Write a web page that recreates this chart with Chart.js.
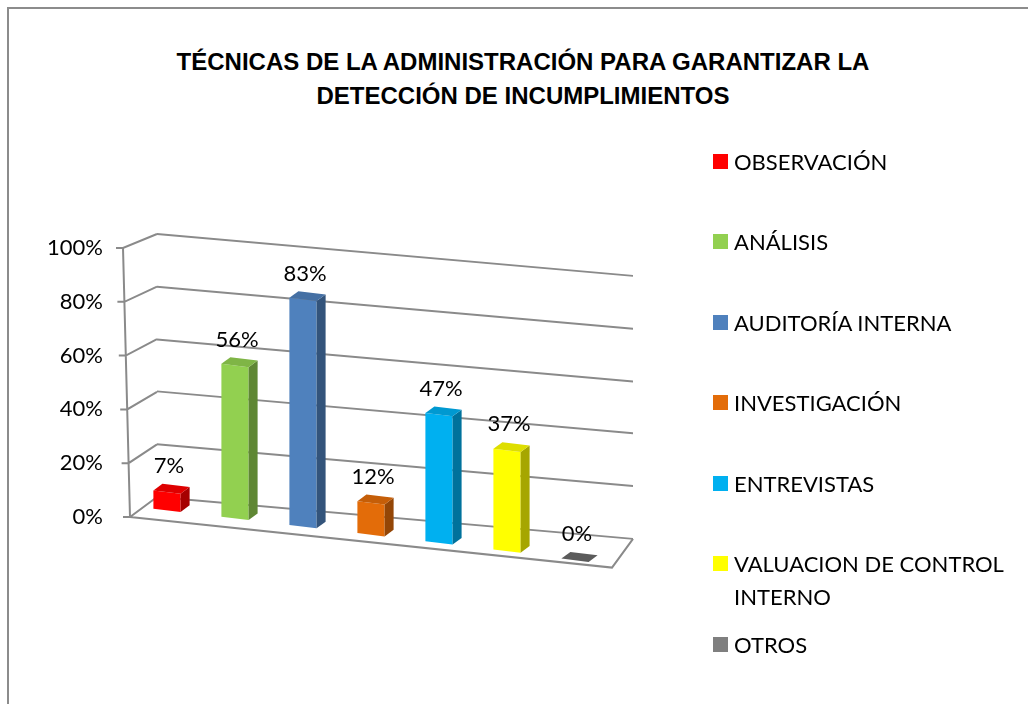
<!DOCTYPE html>
<html lang="es">
<head>
<meta charset="utf-8">
<title>Técnicas de la administración</title>
<script src="https://cdn.jsdelivr.net/npm/chart.js@4.4.1/dist/chart.umd.min.js"></script>
<style>
  html, body { margin: 0; padding: 0; background: #fff; overflow: hidden; }
  #frame { position: absolute; left: 7px; top: 7px; width: 1040px; height: 720px;
           border-left: 2px solid #8c8c8c; border-top: 2px solid #8c8c8c; }
  #chart { position: absolute; left: 0; top: 0; }
  #title { position: absolute; left: 0; top: 45px; width: 1046px; text-align: center;
           font: bold 24px/34px "Liberation Sans", Arial, sans-serif; color: #000; }
  #legend { position: absolute; left: 713px; top: 0; font: 22px/33px Lato, sans-serif; color: #000; }
  .item { position: absolute; left: 0; width: 285px; padding-left: 21px; }
  .item i { position: absolute; left: 0; top: 9px; width: 15px; height: 15px; }
</style>
</head>
<body>
<div id="frame"></div>
<div id="title">TÉCNICAS DE LA ADMINISTRACIÓN PARA GARANTIZAR LA<br>DETECCIÓN DE INCUMPLIMIENTOS</div>
<canvas id="chart" width="1028" height="704"></canvas>
<div id="legend"></div>

<script>
// ─── Data ─────────────────────────────────────────────────────────────────────
const categories = [
  "OBSERVACIÓN",
  "ANÁLISIS",
  "AUDITORÍA INTERNA",
  "INVESTIGACIÓN",
  "ENTREVISTAS",
  "VALUACION DE CONTROL INTERNO",
  "OTROS",
];
const percentages = [7, 56, 83, 12, 47, 37, 0];
const barColors = ["#ff0000", "#92d050", "#4f81bd", "#e36c09", "#00b0f0", "#ffff00", "#7f7f7f"];
const tickLabels = ["0%", "20%", "40%", "60%", "80%", "100%"];

// ─── Fake 3D (affine tilt of the flat chart) ──────────────────────────────────
// back wall grid:  y' = b*x + d*y + f
const GRID = { b: 0.088, d: 0.9777, f: -22.3 };
// bars stand nearer the viewer: moved left, floor drops faster
const BARS = { e: -24, b: 0.12, d: 1.022, f: -40 };
const DEPTH = { dx: 9, dy: 7.5 };
const FRONT = { inset: 34, lean: 7 };
const FLOOR_SLOPE = 0.105;
const LINE = "#8a8a8a";

function shade(hex, k) {
  const n = parseInt(hex.slice(1), 16);
  const c = [n >> 16, (n >> 8) & 255, n & 255].map(v => Math.round(v * k));
  return `rgb(${c[0]},${c[1]},${c[2]})`;
}

function drawWalls(chart) {
  const { ctx, chartArea: ca, scales: { y } } = chart;
  const front = v => {
    const py = y.getPixelForValue(v);
    return [ca.left - FRONT.inset + FRONT.lean * (py - ca.top) / (ca.bottom - ca.top), py];
  };
  const back = (x, py) => GRID.b * x + GRID.d * py + GRID.f;

  ctx.save();
  ctx.strokeStyle = LINE;
  ctx.lineWidth = 2;
  ctx.beginPath();
  y.ticks.forEach(t => {
    const [fx, fy] = front(t.value);
    ctx.moveTo(fx - 7, fy);
    ctx.lineTo(fx, fy);
    ctx.lineTo(ca.left, back(ca.left, fy));
  });
  const [tx, ty] = front(y.max);
  const [bx, by] = front(y.min);
  ctx.moveTo(tx, ty);
  ctx.lineTo(bx, by);
  // floor front edge + right end
  const fr = ca.right - 21;
  ctx.moveTo(bx, by);
  ctx.lineTo(fr, by + FLOOR_SLOPE * (fr - bx));
  ctx.lineTo(ca.right, back(ca.right, by));
  ctx.stroke();
  ctx.restore();
}

function drawFaces(chart) {
  const ctx = chart.ctx;
  const { dx, dy } = DEPTH;
  chart.getDatasetMeta(0).data.forEach((bar, i) => {
    const { x, y, base, width } = bar.getProps(["x", "y", "base", "width"], true);
    const l = x - width / 2, r = x + width / 2;
    if (base - y > 0.5) {
      ctx.fillStyle = shade(barColors[i], 0.65);
      ctx.beginPath();
      ctx.moveTo(r, y); ctx.lineTo(r + dx, y - dy);
      ctx.lineTo(r + dx, base - dy); ctx.lineTo(r, base);
      ctx.closePath(); ctx.fill();
    }
    ctx.fillStyle = shade(barColors[i], base - y > 0.5 ? 0.87 : 0.72);
    ctx.beginPath();
    ctx.moveTo(l, y); ctx.lineTo(r, y);
    ctx.lineTo(r + dx, y - dy); ctx.lineTo(l + dx, y - dy);
    ctx.closePath(); ctx.fill();
  });
}

function drawValueLabels(chart) {
  const ctx = chart.ctx;
  ctx.save();
  ctx.font = "22px Lato, sans-serif";
  ctx.fillStyle = "#000";
  ctx.textAlign = "center";
  ctx.textBaseline = "middle";
  chart.getDatasetMeta(0).data.forEach((bar, i) => {
    const { x, y } = bar.getProps(["x", "y"], true);
    const px = x + BARS.e + 2;
    const py = BARS.b * x + BARS.d * y + BARS.f - 26;
    ctx.fillText(percentages[i] + "%", px, py);
  });
  ctx.restore();
}

const perspective = {
  id: "perspective",
  beforeDraw(chart) {
    chart.ctx.save();
    chart.ctx.transform(1, GRID.b, 0, GRID.d, 0, GRID.f);
  },
  beforeDatasetsDraw(chart) {
    chart.ctx.restore();
    drawWalls(chart);
    chart.ctx.save();
    chart.ctx.transform(1, BARS.b, 0, BARS.d, BARS.e, BARS.f);
  },
  afterDatasetsDraw(chart) {
    drawFaces(chart);
    chart.ctx.restore();
    drawValueLabels(chart);
  },
};

// ─── Legend ───────────────────────────────────────────────────────────────────
function buildLegend() {
  const box = document.getElementById("legend");
  categories.forEach((name, i) => {
    const el = document.createElement("div");
    el.className = "item";
    el.style.top = (161 + 80.5 * i - 16.5) + "px";
    el.innerHTML = `<i style="background:${barColors[i]}"></i>${name}`;
    box.appendChild(el);
  });
}

// ─── Chart ────────────────────────────────────────────────────────────────────
function draw() {
  buildLegend();
  new Chart(document.getElementById("chart"), {
    type: "bar",
    data: {
      labels: categories,
      datasets: [{
        data: percentages,
        backgroundColor: barColors,
        borderWidth: 0,
        barPercentage: 0.4,
        categoryPercentage: 1,
      }],
    },
    options: {
      responsive: false,
      animation: false,
      layout: { padding: { top: 248, bottom: 187, left: 40, right: 395 } },
      plugins: { legend: { display: false }, tooltip: { enabled: false } },
      scales: {
        x: { display: false },
        y: {
          min: 0,
          max: 100,
          ticks: {
            stepSize: 20,
            callback: (v, i) => tickLabels[i],
            font: { family: "Lato", size: 22 },
            color: "#000",
            padding: 54,
            z: 1,
          },
          grid: { color: LINE, lineWidth: 2, drawTicks: false },
          border: { display: false },
          afterFit(scale) { scale.width = 117; },
        },
      },
    },
    plugins: [perspective],
  });
}

document.fonts.load("22px Lato").then(draw, draw);
</script>
</body>
</html>
